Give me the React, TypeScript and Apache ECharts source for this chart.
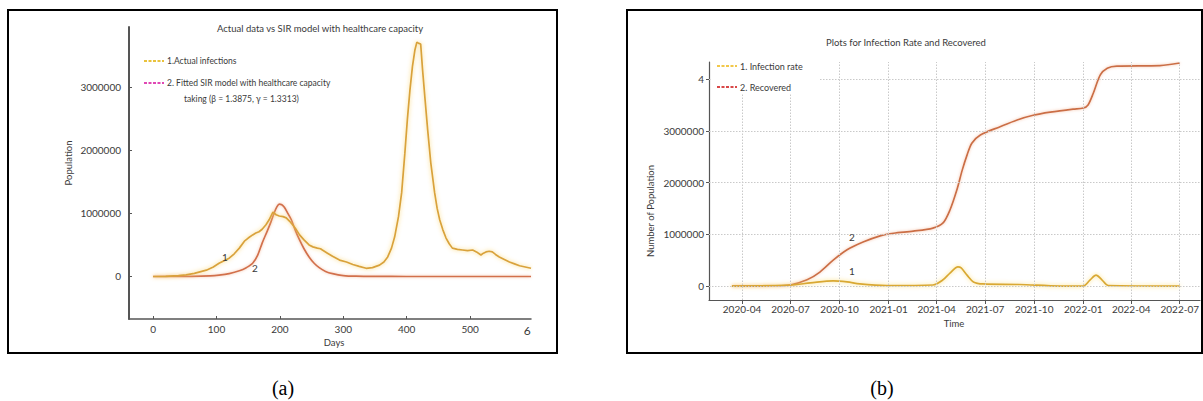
import React, { useEffect, useRef } from "react";
import * as echarts from "echarts";

// ---------- Panel (a): actual data vs SIR model ----------
const actualDays = [0, 20, 40, 52, 65, 84, 95, 104, 112, 120, 128, 136, 144, 150, 157, 162, 167, 172, 178, 183, 189, 194, 199, 205, 210, 215, 220, 226, 231, 238, 246, 252, 259, 264, 267, 275, 283, 294, 305, 315, 325, 336, 346, 357, 364, 370, 376, 381, 387, 392, 397, 401, 405, 409, 413, 416, 419, 422, 425, 429, 433, 438, 444, 448, 452, 457, 462, 467, 472, 480, 488, 496, 504, 510, 517, 521, 525, 530, 535, 540, 546, 554, 562, 570, 578, 587, 596];
const actualInfections = [0, 2000, 12000, 25000, 50000, 100000, 150000, 210000, 250000, 290000, 360000, 450000, 560000, 610000, 660000, 690000, 710000, 750000, 820000, 900000, 1020000, 980000, 960000, 950000, 930000, 880000, 820000, 740000, 660000, 580000, 500000, 470000, 450000, 440000, 420000, 370000, 320000, 260000, 230000, 190000, 160000, 130000, 140000, 180000, 230000, 310000, 450000, 630000, 950000, 1330000, 1950000, 2490000, 2950000, 3330000, 3600000, 3720000, 3700000, 3690000, 3280000, 2800000, 2330000, 1800000, 1330000, 1080000, 900000, 740000, 610000, 520000, 450000, 430000, 420000, 410000, 420000, 390000, 340000, 370000, 390000, 400000, 390000, 350000, 310000, 270000, 230000, 200000, 170000, 150000, 130000];

const sirDays = [0, 60, 90, 104, 120, 136, 147, 157, 165, 172, 180, 186, 191, 195, 199, 203, 207, 212, 218, 224, 231, 238, 246, 254, 262, 272, 283, 300, 320, 350, 400, 596];
const sirFitted = [0, 1000, 8000, 20000, 45000, 90000, 140000, 210000, 340000, 530000, 720000, 870000, 1010000, 1100000, 1150000, 1140000, 1100000, 1010000, 900000, 740000, 580000, 440000, 310000, 210000, 140000, 80000, 45000, 15000, 4000, 500, 0, 0];

const dayTicks = [0, 100, 200, 300, 400, 500];
const dayLabels = [0, 100, 200, 300, 400, 500, 590];
const popTicksA = [0, 1000000, 2000000, 3000000];

// ---------- Panel (b): infection rate and recovered ----------
const recoveredDates = ["2020-03-13", "2020-05-31", "2020-06-30", "2020-08-01", "2020-08-25", "2020-09-19", "2020-10-15", "2020-11-14", "2020-12-16", "2021-01-10", "2021-02-16", "2021-03-25", "2021-04-13", "2021-04-26", "2021-05-09", "2021-05-19", "2021-05-28", "2021-06-06", "2021-06-22", "2021-07-29", "2021-08-30", "2021-09-29", "2021-10-31", "2021-12-13", "2022-01-01", "2022-01-10", "2022-01-20", "2022-02-02", "2022-02-15", "2022-03-05", "2022-05-25", "2022-07-01"];
const recovered = [0, 5000, 20000, 120000, 270000, 500000, 700000, 850000, 970000, 1020000, 1060000, 1120000, 1220000, 1470000, 1860000, 2240000, 2530000, 2760000, 2920000, 3080000, 3210000, 3300000, 3360000, 3420000, 3440000, 3500000, 3730000, 4080000, 4210000, 4250000, 4260000, 4310000];

const infectionDates = ["2020-03-13", "2020-06-30", "2020-08-07", "2020-09-19", "2020-10-15", "2020-11-08", "2020-12-29", "2021-03-25", "2021-04-13", "2021-04-26", "2021-05-11", "2021-05-17", "2021-05-28", "2021-06-09", "2021-06-27", "2021-09-04", "2021-11-19", "2022-01-01", "2022-01-14", "2022-01-25", "2022-02-05", "2022-02-17", "2022-07-01"];
const infectionRate = [0, 20000, 60000, 100000, 80000, 40000, 10000, 20000, 120000, 250000, 370000, 350000, 210000, 80000, 40000, 30000, 0, 0, 120000, 210000, 120000, 10000, 0];

const quarterTicks = ["2020-04-01", "2020-07-01", "2020-10-01", "2021-01-01", "2021-04-01", "2021-07-01", "2021-10-01", "2022-01-01", "2022-04-01", "2022-07-01"];
const popTicksB = [0, 1000000, 2000000, 3000000, 4000000];

const ts = (s: string) => Date.parse(s + "T00:00:00Z");
const fmtMonth = (v: number) => {
  const d = new Date(v);
  return d.getUTCFullYear() + "-" + String(d.getUTCMonth() + 1).padStart(2, "0");
};

const FONT = "Lato, 'Open Sans', sans-serif";
const TXT = "#3a3a3a";

export default function App() {
  const ref = useRef<HTMLDivElement>(null);
  useEffect(() => {
    if (!ref.current) return;
    const chart = echarts.init(ref.current, undefined, { renderer: "svg" });
    const labelStyle = { fontFamily: FONT, fontSize: 10, color: TXT };
    const txt = (text: string, x: number, y: number, size: number, extra: any = {}) => ({
      type: "text",
      x,
      y,
      z: 20,
      style: { text, fontFamily: FONT, fontSize: size, fill: TXT, textVerticalAlign: "middle", ...extra },
    });
    const dash = (x1: number, x2: number, y: number, color: string) => ({
      type: "line",
      z: 20,
      shape: { x1, y1: y, x2, y2: y },
      style: { stroke: color, lineWidth: 2, lineDash: [3, 1.5] },
    });

    const option: any = {
      animation: false,
      backgroundColor: "#ffffff",
      grid: [
        { left: 129, top: 27, width: 402, height: 292 },
        { left: 709, top: 62, width: 491, height: 238 },
      ],
      xAxis: [
        {
          type: "value",
          gridIndex: 0,
          min: -38,
          max: 596,
          axisLine: { show: true, onZero: false, lineStyle: { color: "#555", width: 1.5 } },
          axisTick: { show: true, inside: true, length: 3, customValues: dayTicks, lineStyle: { color: "#555" } },
          axisLabel: {
            ...labelStyle,
            margin: 5,
            customValues: dayLabels,
            formatter: (v: number) => (v === 590 ? "{big|6}" : String(v)),
            rich: { big: { fontFamily: FONT, fontSize: 12, color: TXT } },
          },
          splitLine: { show: false },
        },
        {
          type: "value",
          gridIndex: 1,
          min: ts("2020-01-30"),
          max: ts("2022-08-08"),
          axisLine: { show: true, onZero: false, lineStyle: { color: "#555", width: 1.2 } },
          axisTick: { show: true, length: 4, customValues: quarterTicks.map(ts), lineStyle: { color: "#555" } },
          axisLabel: { ...labelStyle, margin: 4, customValues: quarterTicks.map(ts), formatter: (v: number) => fmtMonth(v) },
          splitLine: { show: false },
        },
      ],
      yAxis: [
        {
          type: "value",
          gridIndex: 0,
          min: -675000,
          max: 3960000,
          axisLine: { show: true, onZero: false, lineStyle: { color: "#555", width: 2 } },
          axisTick: { show: true, inside: true, length: 3, customValues: popTicksA, lineStyle: { color: "#555" } },
          axisLabel: { ...labelStyle, margin: 8, customValues: popTicksA, formatter: (v: number) => String(v) },
          splitLine: { show: false },
        },
        {
          type: "value",
          gridIndex: 1,
          min: -270000,
          max: 4330000,
          axisLine: { show: true, onZero: false, lineStyle: { color: "#555", width: 1.2 } },
          axisTick: { show: true, length: 3, customValues: popTicksB, lineStyle: { color: "#555" } },
          axisLabel: {
            ...labelStyle,
            margin: 5,
            customValues: popTicksB,
            formatter: (v: number) => (v === 4000000 ? "4" : String(v)),
          },
          splitLine: { show: false },
        },
      ],
      series: [
        {
          name: "1.Actual infections",
          type: "line",
          xAxisIndex: 0,
          yAxisIndex: 0,
          showSymbol: false,
          z: 4,
          data: actualDays.map((d, i) => [d, actualInfections[i]]),
          lineStyle: { color: "#D9A23A", width: 1.7, shadowColor: "rgba(250,212,110,0.95)", shadowBlur: 4 },
        },
        {
          name: "2. Fitted SIR model with healthcare capacity",
          type: "line",
          xAxisIndex: 0,
          yAxisIndex: 0,
          showSymbol: false,
          smooth: 0.3,
          z: 3,
          data: sirDays.map((d, i) => [d, sirFitted[i]]),
          lineStyle: { color: "#D2704B", width: 1.7, shadowColor: "rgba(245,190,160,0.9)", shadowBlur: 3 },
        },
        {
          name: "grid-b",
          type: "line",
          xAxisIndex: 1,
          yAxisIndex: 1,
          data: [],
          z: 1,
          markLine: {
            silent: true,
            symbol: "none",
            label: { show: false },
            lineStyle: { color: "#c9c9c9", type: [1.5, 1.5], width: 1 },
            data: [...quarterTicks.map((t) => ({ xAxis: ts(t) })), ...popTicksB.map((v) => ({ yAxis: v }))],
          },
        },
        {
          name: "2. Recovered",
          type: "line",
          xAxisIndex: 1,
          yAxisIndex: 1,
          showSymbol: false,
          smooth: 0.3,
          z: 3,
          data: recoveredDates.map((d, i) => [ts(d), recovered[i]]),
          lineStyle: { color: "#CB6E45", width: 1.7, shadowColor: "rgba(245,190,160,0.9)", shadowBlur: 3 },
        },
        {
          name: "1. Infection rate",
          type: "line",
          xAxisIndex: 1,
          yAxisIndex: 1,
          showSymbol: false,
          smooth: 0.3,
          z: 4,
          data: infectionDates.map((d, i) => [ts(d), infectionRate[i]]),
          lineStyle: { color: "#D9A832", width: 1.7, shadowColor: "rgba(252,220,110,0.95)", shadowBlur: 4 },
        },
      ],
      graphic: [
        // panel borders
        { type: "rect", z: 30, shape: { x: 8, y: 10, width: 549, height: 343 }, style: { fill: "none", stroke: "#000", lineWidth: 2 } },
        { type: "rect", z: 30, shape: { x: 627, y: 10, width: 575, height: 343 }, style: { fill: "none", stroke: "#000", lineWidth: 2 } },
        // panel (a) texts
        txt("Actual data vs SIR model with healthcare capacity", 320, 28, 9.5, { textAlign: "center" }),
        dash(144, 164, 61, "#E9C23C"),
        txt("1.Actual infections", 167, 61, 8.5),
        dash(144, 164, 83, "#E048B4"),
        txt("2. Fitted SIR model with healthcare capacity", 167, 83, 8.5),
        txt("taking (\u03B2 = 1.3875, \u03B3 = 1.3313)", 184, 99, 8.5),
        { type: "text", x: 68, y: 163, rotation: Math.PI / 2, z: 20, style: { text: "Population", fontFamily: FONT, fontSize: 9.5, fill: TXT, textAlign: "center", textVerticalAlign: "middle" } },
        txt("Days", 334, 342, 9.5, { textAlign: "center" }),
        txt("1", 225, 257, 10, { textAlign: "center" }),
        txt("2", 255, 268, 10, { textAlign: "center" }),
        // panel (b) texts
        txt("Plots for Infection Rate and Recovered", 906, 42, 9.5, { textAlign: "center" }),
        { type: "rect", z: 15, shape: { x: 711, y: 54, width: 108, height: 39 }, style: { fill: "#fff" } },
        dash(717, 737, 66, "#F2C84A"),
        txt("1. Infection rate", 740, 66, 9),
        dash(717, 737, 87, "#D94848"),
        txt("2. Recovered", 740, 87, 9),
        { type: "text", x: 650, y: 211, rotation: Math.PI / 2, z: 20, style: { text: "Number of Population", fontFamily: FONT, fontSize: 9.5, fill: TXT, textAlign: "center", textVerticalAlign: "middle" } },
        txt("Time", 954, 323, 9.5, { textAlign: "center" }),
        txt("2", 852, 237, 10, { textAlign: "center" }),
        txt("1", 852, 271, 10, { textAlign: "center" }),
        // captions
        { type: "text", x: 283, y: 388, z: 20, style: { text: "(a)", fontFamily: "'Liberation Serif', 'DejaVu Serif', serif", fontSize: 20, fill: "#000", textAlign: "center", textVerticalAlign: "middle" } },
        { type: "text", x: 882, y: 388, z: 20, style: { text: "(b)", fontFamily: "'Liberation Serif', 'DejaVu Serif', serif", fontSize: 20, fill: "#000", textAlign: "center", textVerticalAlign: "middle" } },
      ],
    };
    chart.setOption(option);
    return () => chart.dispose();
  }, []);
  return <div ref={ref} style={{ position: "absolute", left: 0, top: 0, width: 1203, height: 401 }} />;
}
